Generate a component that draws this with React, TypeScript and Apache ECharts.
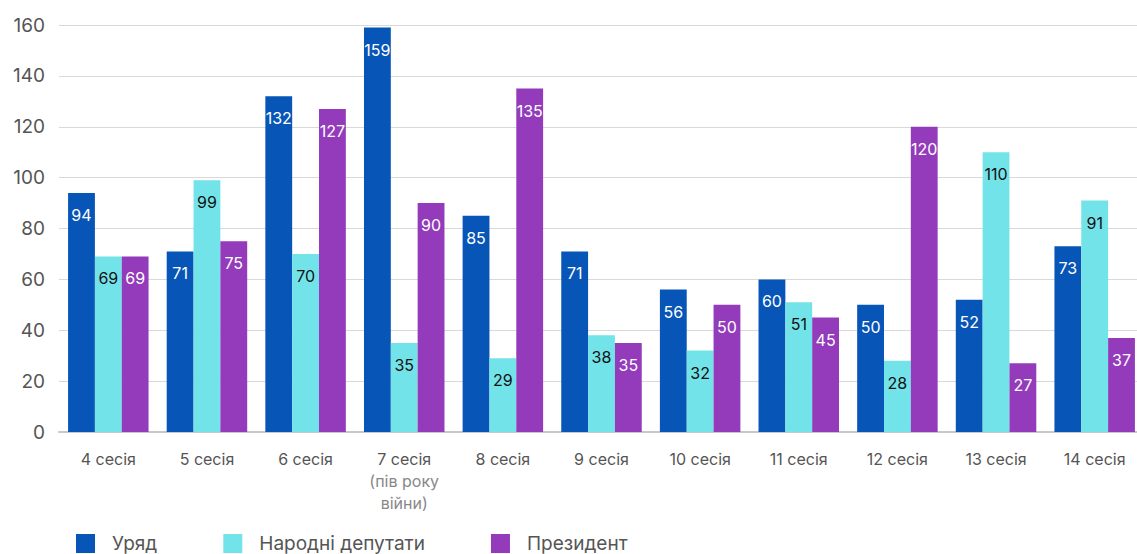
import React, { useEffect, useRef } from "react";
import * as echarts from "echarts";

const categories = ["4 сесія", "5 сесія", "6 сесія", "7 сесія\n{sub|(пів року\nвійни)}", "8 сесія", "9 сесія", "10 сесія", "11 сесія", "12 сесія", "13 сесія", "14 сесія"];
const uriad = [94, 71, 132, 159, 85, 71, 56, 60, 50, 52, 73];
const deputaty = [69, 99, 70, 35, 29, 38, 32, 51, 28, 110, 91];
const prezydent = [69, 75, 127, 90, 135, 35, 50, 45, 120, 27, 37];
const yTicks = { min: 0, max: 160, interval: 20 };

export default function App() {
  const ref = useRef<HTMLDivElement>(null);
  useEffect(() => {
    const chart = echarts.init(ref.current!, null, { renderer: "svg" });
    const lbl = (color: string) => ({
      show: true,
      position: "insideTop",
      distance: 14,
      color,
      fontSize: 16,
      fontFamily: "Inter",
    });
    chart.setOption({
      animation: false,
      textStyle: { fontFamily: "Inter" },
      grid: { left: 59, right: 0, top: 25, bottom: 122, containLabel: false },
      legend: {
        left: 71,
        top: 529,
        itemWidth: 19,
        itemHeight: 19,
        itemGap: 66,
        icon: "rect",
        textStyle: { fontSize: 19, color: "#555", fontFamily: "Inter", padding: [0, 0, 0, 12] },
        data: ["Уряд", "Народні депутати", "Президент"],
      },
      xAxis: {
        type: "category",
        data: categories,
        axisTick: { show: false },
        axisLine: { lineStyle: { color: "#c8c8c8", width: 2 } },
        axisLabel: {
          interval: 0,
          fontSize: 16,
          color: "#555",
          margin: 16,
          lineHeight: 22,
          rich: { sub: { fontSize: 16, color: "#888", lineHeight: 22, fontFamily: "Inter" } },
        },
      },
      yAxis: {
        type: "value",
        min: yTicks.min,
        max: yTicks.max,
        interval: yTicks.interval,
        axisLabel: { fontSize: 19, color: "#555", margin: 14 },
        splitLine: { lineStyle: { color: "#d9d9d9", width: 1 } },
        axisLine: { show: false },
        axisTick: { show: false },
      },
      series: [
        { name: "Уряд", type: "bar", data: uriad, itemStyle: { color: "#0755B6" }, barGap: "0%", barCategoryGap: "18.4%", label: lbl("#fff") },
        { name: "Народні депутати", type: "bar", data: deputaty, itemStyle: { color: "#73E3EA" }, barGap: "0%", barCategoryGap: "18.4%", label: lbl("#111") },
        { name: "Президент", type: "bar", data: prezydent, itemStyle: { color: "#933BBB" }, barGap: "0%", barCategoryGap: "18.4%", label: lbl("#fff") },
      ],
    });
    return () => chart.dispose();
  }, []);
  return (
    <div style={{ width: 1137, height: 554, position: "absolute", left: 0, top: 0, overflow: "hidden" }}>
      <div ref={ref} style={{ width: 1144, height: 554 }} />
    </div>
  );
}
